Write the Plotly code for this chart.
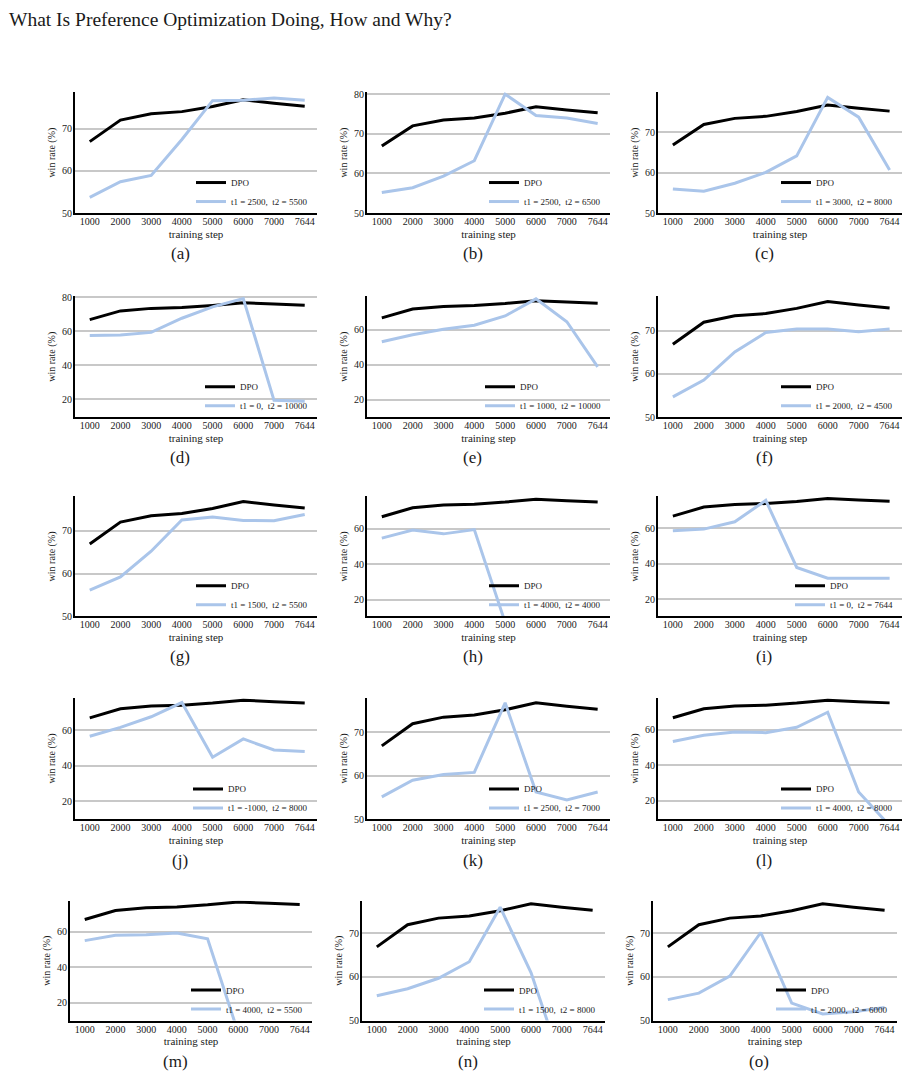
import plotly.graph_objects as go

# ---------------- data ----------------
steps = ["1000", "2000", "3000", "4000", "5000", "6000", "7000", "7644"]
dpo = [66.9, 72.0, 73.5, 74.0, 75.2, 76.8, 76.0, 75.3]

series_a = [53.7, 57.4, 58.9, 67.4, 76.6, 76.7, 77.2, 76.7]
series_b = [55.2, 56.4, 59.3, 63.2, 80.0, 74.6, 74.0, 72.6]
series_c = [56.0, 55.4, 57.4, 60.1, 64.2, 78.7, 73.8, 60.7]
series_d = [57.5, 57.9, 59.4, 67.7, 74.4, 79.3, 19.5, 19.0]
series_e = [53.2, 57.2, 60.4, 62.7, 68.0, 77.8, 64.7, 38.8]
series_f = [54.7, 58.6, 65.1, 69.6, 70.4, 70.4, 69.8, 70.4]
series_g = [56.1, 59.2, 65.2, 72.5, 73.2, 72.4, 72.3, 73.8]
series_h = [54.8, 59.4, 57.2, 59.6, 7.0, None, None, None]
series_i = [58.7, 59.6, 63.7, 75.8, 38.0, 32.0, 32.0, 32.0]
series_j = [56.5, 61.5, 67.5, 75.5, 44.7, 55.0, 48.8, 47.9]
series_k = [55.2, 59.0, 60.3, 60.8, 76.8, 56.3, 54.5, 56.3]
series_l = [53.5, 57.0, 58.8, 58.5, 61.5, 70.0, 25.0, 6.0]
series_m = [55.0, 58.0, 58.3, 59.3, 56.0, 3.0, None, None]
series_n = [55.7, 57.3, 59.7, 63.5, 76.0, 61.0, 40.0, None]
series_o = [54.8, 56.3, 60.2, 70.2, 54.0, 51.5, 52.0, 53.0]

legend_names = [
    "t1 = 2500,  t2 = 5500", "t1 = 2500,  t2 = 6500", "t1 = 3000,  t2 = 8000",
    "t1 = 0,  t2 = 10000", "t1 = 1000,  t2 = 10000", "t1 = 2000,  t2 = 4500",
    "t1 = 1500,  t2 = 5500", "t1 = 4000,  t2 = 4000", "t1 = 0,  t2 = 7644",
    "t1 = -1000,  t2 = 8000", "t1 = 2500,  t2 = 7000", "t1 = 4000,  t2 = 8000",
    "t1 = 4000,  t2 = 5500", "t1 = 1500,  t2 = 8000", "t1 = 2000,  t2 = 6000",
]
panel_labels = ["(a)", "(b)", "(c)", "(d)", "(e)", "(f)", "(g)", "(h)", "(i)",
                "(j)", "(k)", "(l)", "(m)", "(n)", "(o)"]
y_ranges = [
    [50, 78.6], [50, 80.5], [50, 80.0],
    [9.6, 80.6], [9.9, 79.3], [50, 78.0],
    [50, 78.0], [10.5, 78.4], [10.5, 78.0],
    [9.7, 78.3], [50, 78.0], [9.5, 78.3],
    [10.0, 77.5], [50, 77.5], [50, 77.5],
]
y_ticks = [
    [50, 60, 70], [50, 60, 70, 80], [50, 60, 70],
    [20, 40, 60, 80], [20, 40, 60], [50, 60, 70],
    [50, 60, 70], [20, 40, 60], [20, 40, 60],
    [20, 40, 60], [50, 60, 70], [20, 40, 60],
    [20, 40, 60], [50, 60, 70], [50, 60, 70],
]
all_series = [series_a, series_b, series_c, series_d, series_e, series_f,
              series_g, series_h, series_i, series_j, series_k, series_l,
              series_m, series_n, series_o]

# ---------------- layout geometry (pixels) ----------------
W, H = 909, 1088
rows_px = [(89, 211), (295, 417), (497, 618), (700, 823), (905, 1026)]
cols_px = [(75, 317), (367, 610), (658, 902)]
row_shift = [0, 0, 0, 0, -5]

def px_x(p):
    return p / W

def px_y(p):
    return 1 - p / H

SERIF = "Liberation Serif"
BLACK = "#000000"
BLUE = "#aac5ea"
TXT = "#1a1a1a"

fig = go.Figure()
layout = dict(
    width=W, height=H,
    margin=dict(l=0, r=0, t=0, b=0),
    paper_bgcolor="white", plot_bgcolor="white",
    font=dict(family=SERIF, color=TXT, size=10),
    showlegend=True,
)
annotations = []

for idx in range(15):
    r, c = divmod(idx, 3)
    top, bot = rows_px[r]
    left, right = cols_px[c]
    left += row_shift[r]
    right += row_shift[r]
    n = idx + 1
    xa = "x" if n == 1 else f"x{n}"
    ya = "y" if n == 1 else f"y{n}"
    lg = "legend" if n == 1 else f"legend{n}"

    fig.add_trace(go.Scatter(x=steps, y=dpo, mode="lines", name="DPO",
                             line=dict(color=BLACK, width=3),
                             xaxis=xa, yaxis=ya, legend=lg))
    fig.add_trace(go.Scatter(x=steps, y=all_series[idx], mode="lines",
                             name=legend_names[idx].replace("  ", "\u00a0 "),
                             line=dict(color=BLUE, width=3),
                             xaxis=xa, yaxis=ya, legend=lg))

    xkey = "xaxis" if n == 1 else f"xaxis{n}"
    ykey = "yaxis" if n == 1 else f"yaxis{n}"
    layout[xkey] = dict(
        domain=[px_x(left), px_x(right)], anchor=ya, type="category",
        range=[-0.48, 7.4], showgrid=False, zeroline=False,
        showline=True, linecolor=BLACK, linewidth=2,
        ticks="", ticklabelstandoff=-2,
        tickfont=dict(family=SERIF, size=10, color=TXT),
        title=dict(text="training step", font=dict(family=SERIF, size=11, color=TXT),
                   standoff=4),
    )
    layout[ykey] = dict(
        domain=[px_y(bot), px_y(top)], anchor=xa,
        range=y_ranges[idx], tickvals=y_ticks[idx],
        showgrid=True, gridcolor="#c8c8c8", gridwidth=1.5, zeroline=False,
        showline=True, linecolor=BLACK, linewidth=2,
        ticks="", ticklabelstandoff=-1,
        tickfont=dict(family=SERIF, size=10, color=TXT),
        title=dict(text="win rate (%)", font=dict(family=SERIF, size=10, color=TXT),
                   standoff=4),
    )
    layout[lg] = dict(
        x=px_x(right - 4), xanchor="right",
        y=px_y(bot + 3), yanchor="bottom",
        bgcolor="rgba(0,0,0,0)", borderwidth=0,
        font=dict(family=SERIF, size=9, color=TXT),
        itemwidth=30, tracegroupgap=0,
    )
    annotations.append(dict(
        text=panel_labels[idx], xref="paper", yref="paper",
        x=px_x((left + right) / 2 - 16), y=px_y(bot + 41),
        xanchor="center", yanchor="middle", showarrow=False,
        font=dict(family=SERIF, size=17, color=TXT),
    ))

annotations.append(dict(
    text="What Is Preference Optimization Doing, How and Why?",
    xref="paper", yref="paper", x=px_x(7), y=px_y(16),
    xanchor="left", yanchor="middle", showarrow=False,
    font=dict(family=SERIF, size=19.5, color=TXT),
))
layout["annotations"] = annotations
fig.update_layout(**layout)
fig.write_html("out.html")
